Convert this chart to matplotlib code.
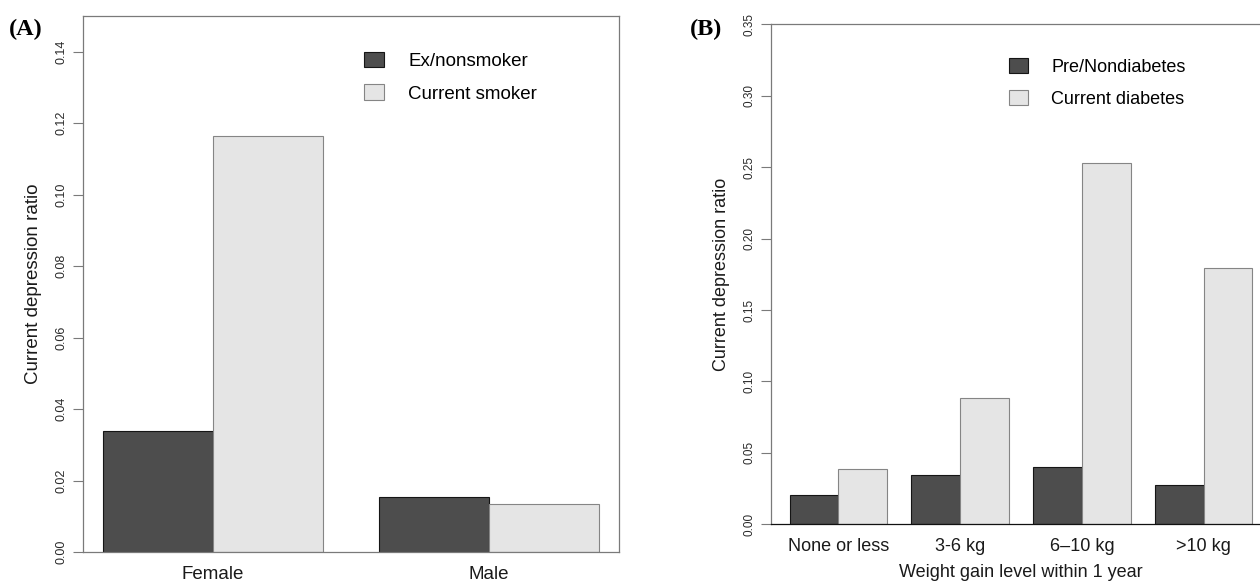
import numpy as np
import matplotlib
matplotlib.use('Agg')
import matplotlib.pyplot as plt

plt.rcParams['font.family'] = ['Liberation Sans', 'DejaVu Sans']

# panel A: smoking status by sex
sex_groups = ['Female', 'Male']
nonsmoker = [0.0338, 0.0154]
smoker = [0.1164, 0.0134]

# panel B: diabetes status by weight gain
gain_groups = ['None or less', '3-6 kg', '6\u201310 kg', '>10 kg']
nondiabetes = [0.0207, 0.0343, 0.0401, 0.0275]
diabetes = [0.0387, 0.0882, 0.2532, 0.1793]

DARK = '#4d4d4d'
LIGHT = '#e5e5e5'
AXIS_GREY = '#7a7a7a'
TEXT = '#1a1a1a'


def grouped_bars(ax, first, second, labels, series_names):
    # R barplot layout: bar width 1, half a bar between groups
    n = len(first)
    lefts = 0.5 + 2.5 * np.arange(n)
    b1 = ax.bar(lefts, first, width=1.0, align='edge', color=DARK,
                edgecolor='#151515', linewidth=0.8, label=series_names[0])
    b2 = ax.bar(lefts + 1, second, width=1.0, align='edge', color=LIGHT,
                edgecolor='#858585', linewidth=0.8, label=series_names[1])
    span = lefts[-1] + 2 - lefts[0]
    ax.set_xlim(lefts[0] - 0.04 * span, lefts[-1] + 2 + 0.04 * span)
    ax.set_xticks(lefts + 1)
    ax.set_xticklabels(labels, fontsize=13.5, color=TEXT)
    ax.tick_params(axis='x', length=0, pad=10)
    ax.tick_params(axis='y', length=7, width=0.8, color=AXIS_GREY,
                   labelsize=9, labelcolor='#2a2a2a', pad=4)
    return b1, b2


def rotate_yticklabels(ax, size):
    for lab in ax.get_yticklabels():
        lab.set_rotation(90)
        lab.set_va('center')
        lab.set_fontsize(size)


fig = plt.figure(figsize=(12.6, 5.83), dpi=100)
W, H = 1260, 583

# ---- panel A
axA = fig.add_axes([83 / W, (H - 552) / H, 536 / W, 536 / H])
grouped_bars(axA, nonsmoker, smoker, sex_groups,
             ['Ex/nonsmoker', 'Current smoker'])
axA.set_ylim(0, 0.15)
ticksA = np.arange(0, 0.141, 0.02)
axA.set_yticks(ticksA)
axA.set_yticklabels([f'{v:.2f}' for v in ticksA])
rotate_yticklabels(axA, 9)
for s in axA.spines.values():
    s.set_color(AXIS_GREY)
    s.set_linewidth(0.9)
axA.set_ylabel('Current depression ratio', fontsize=13.5, color=TEXT)
axA.yaxis.set_label_coords((42 - 83) / 536, 0.5)
axA.legend(loc='upper left', bbox_to_anchor=(364 / W, 1 - 51.5 / H),
           bbox_transform=fig.transFigure, frameon=False, fontsize=13.5,
           handlelength=1.07, handleheight=0.9, handletextpad=1.3,
           labelspacing=0.78, borderpad=0, borderaxespad=0)

# ---- panel B (runs off the right edge)
axB = fig.add_axes([771 / W, (H - 524.3) / H, 500 / W, 500 / H])
grouped_bars(axB, nondiabetes, diabetes, gain_groups,
             ['Pre/Nondiabetes', 'Current diabetes'])
axB.set_ylim(0, 0.35)
ticksB = np.arange(0, 0.351, 0.05)
axB.set_yticks(ticksB)
axB.set_yticklabels([f'{v:.2f}' for v in ticksB])
rotate_yticklabels(axB, 8.5)
for lab in axB.get_xticklabels():
    lab.set_fontsize(13)
axB.spines['right'].set_visible(False)
axB.spines['left'].set_color(AXIS_GREY)
axB.spines['top'].set_color(AXIS_GREY)
axB.spines['bottom'].set_color('#111111')
for s in axB.spines.values():
    s.set_linewidth(0.9)
axB.set_ylabel('Current depression ratio', fontsize=13, color=TEXT)
axB.yaxis.set_label_coords((730 - 771) / 500, 0.5)
axB.set_xlabel('Weight gain level within 1 year', fontsize=13, color=TEXT,
               labelpad=6)
axB.legend(loc='upper left', bbox_to_anchor=(1009 / W, 1 - 58 / H),
           bbox_transform=fig.transFigure, frameon=False, fontsize=13,
           handlelength=1.05, handleheight=0.9, handletextpad=1.3,
           labelspacing=0.8, borderpad=0, borderaxespad=0)

# panel tags
for tag, x in [('(A)', 9), ('(B)', 690)]:
    fig.text(x / W, 1 - 29 / H, tag, family='Liberation Serif',
             fontweight='bold', fontsize=17.5, ha='left', va='center',
             color='black')

fig.savefig('out.png', dpi=100)
